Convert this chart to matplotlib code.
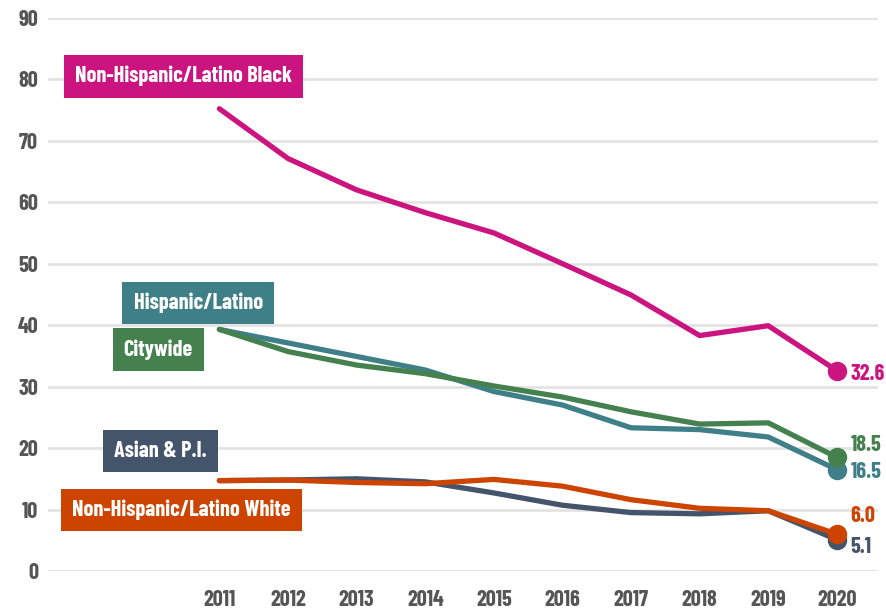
import matplotlib
matplotlib.use("Agg")
import matplotlib.pyplot as plt

years = [2011, 2012, 2013, 2014, 2015, 2016, 2017, 2018, 2019, 2020]
black = [75.2, 67.1, 62.0, 58.3, 55.0, 50.0, 44.9, 38.3, 39.9, 32.6]
hispanic = [39.3, 37.1, 34.9, 32.7, 29.2, 27.0, 23.3, 23.0, 21.8, 16.5]
citywide = [39.3, 35.7, 33.5, 32.1, 30.1, 28.3, 25.9, 23.9, 24.1, 18.5]
asian = [14.7, 14.8, 15.0, 14.5, 12.7, 10.7, 9.5, 9.3, 9.8, 5.1]
white = [14.7, 14.8, 14.4, 14.2, 14.9, 13.8, 11.6, 10.2, 9.8, 6.0]
yticks = [0, 10, 20, 30, 40, 50, 60, 70, 80, 90]

plt.rcParams['font.family'] = ['Barlow Condensed', 'DejaVu Sans']

fig = plt.figure(figsize=(8.86, 6.12), dpi=100)
ax = fig.add_axes([0.054, 0.067, 0.937, 0.904])
ax.set_xlim(2008.5, 2020.6)
ax.set_ylim(0, 90)
for s in ax.spines.values():
    s.set_visible(False)
for t in yticks:
    ax.axhline(t, color='#e3e3e3', lw=2, zorder=0)
ax.set_yticks(yticks)
ax.set_yticklabels([str(t) for t in yticks])
ax.set_xticks(years)
ax.set_xticklabels([str(y) for y in years])
ax.tick_params(length=0, labelsize=16, colors='#555555', pad=7)
ax.tick_params(axis='x', pad=14)
for lab in ax.get_xticklabels() + ax.get_yticklabels():
    lab.set_fontweight('bold')

series = [
    (asian, '#44546A', 'Asian & P.I.', (2010.14, 19.5), '5.1', -1.2),
    (white, '#CC4400', 'Non-Hispanic/Latino White', (2010.45, 9.9), '6.0', 3.0),
    (hispanic, '#3F7F87', 'Hispanic/Latino', (2010.69, 43.6), '16.5', -0.4),
    (citywide, '#45804F', 'Citywide', (2010.11, 36.0), '18.5', 2.0),
    (black, '#CC1480', 'Non-Hispanic/Latino Black', (2010.48, 80.5), '32.6', -0.6),
]
for vals, col, name, pos, endlab, dy in series:
    ax.plot(years, vals, color=col, lw=3.8, solid_capstyle='round', zorder=3)
    ax.plot([years[-1]], [vals[-1]], 'o', color=col, ms=13, zorder=4, clip_on=False)
    ax.text(pos[0], pos[1], name, ha='center', va='center', color='white',
            fontsize=16, fontweight='bold', zorder=5,
            bbox=dict(boxstyle='square,pad=0.5', fc=col, ec='none'))
    ax.text(years[-1] + 0.2, vals[-1] + dy, endlab, ha='left', va='center', color=col,
            fontsize=16, fontweight='bold', zorder=5, clip_on=False)

fig.savefig('out.png', dpi=100)
